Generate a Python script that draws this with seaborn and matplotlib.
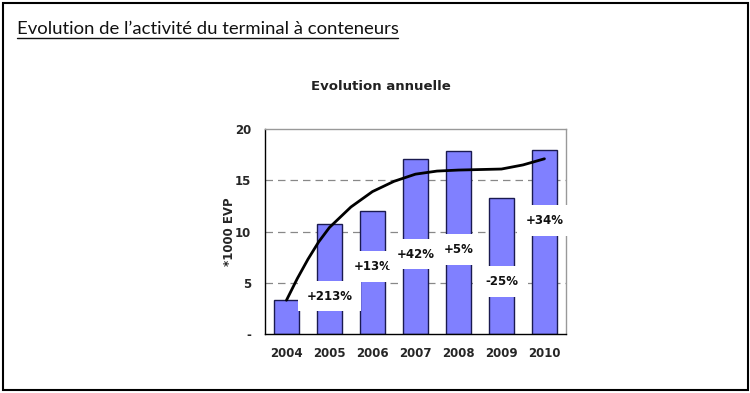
import numpy as np
import pandas as pd
import matplotlib
matplotlib.use("Agg")
import matplotlib.pyplot as plt
from matplotlib.lines import Line2D
from matplotlib.patches import Rectangle
import seaborn as sns

# ---- data ----
years = ["2004", "2005", "2006", "2007", "2008", "2009", "2010"]
volumes = [3.3, 10.7, 12.0, 17.1, 17.9, 13.3, 18.0]
growth_labels = ["", "+213%", "+13%", "+42%", "+5%", "-25%", "+34%"]
growth_label_y = [None, 3.7, 6.6, 7.8, 8.25, 5.1, 11.1]
trend_years = [2004, 2004.25, 2004.5, 2004.75, 2005, 2005.5, 2006, 2006.5,
               2007, 2007.5, 2008, 2008.5, 2009, 2009.5, 2010]
trend_values = [3.3, 5.4, 7.3, 9.0, 10.4, 12.4, 13.9, 14.9,
                15.6, 15.9, 16.0, 16.05, 16.1, 16.5, 17.1]
y_ticks = [0, 5, 10, 15, 20]
y_tick_labels = ["-", "5", "10", "15", "20"]

sns.set_style("white")
plt.rcParams["font.family"] = ["DejaVu Sans"]

fig = plt.figure(figsize=(7.5, 3.93), dpi=100)
ax = fig.add_axes([0.3533, 0.150, 0.4013, 0.5216])

df = pd.DataFrame({"year": years, "vol": volumes})
sns.barplot(data=df, x="year", y="vol", color="#8080FF", saturation=1,
            width=0.59, edgecolor="#1a1a50", linewidth=1.0, ax=ax, zorder=2)

trend_df = pd.DataFrame({"x": np.array(trend_years) - 2004, "y": trend_values})
sns.lineplot(data=trend_df, x="x", y="y", color="black", linewidth=2.0,
             ax=ax, zorder=4)

for i, (lab, ly) in enumerate(zip(growth_labels, growth_label_y)):
    if lab:
        ax.text(i, ly, lab, ha="center", va="center", fontsize=8.5,
                fontweight="bold", color="#111111", zorder=5,
                bbox=dict(boxstyle="square,pad=0.75", fc="white", ec="none"))

ax.set_xlim(-0.5, 6.5)
ax.set_ylim(0, 20)
ax.set_yticks(y_ticks)
ax.set_yticklabels(y_tick_labels, fontsize=8.5, fontweight="bold")
ax.set_xticks(range(len(years)))
ax.set_xticklabels(years, fontsize=8.5, fontweight="bold")
ax.set_xticks(np.arange(-0.5, 7.0, 1.0), minor=True)
ax.tick_params(axis="x", which="major", length=0, pad=9)
ax.tick_params(axis="x", which="minor", length=4, width=1, direction="out", color="black")
ax.tick_params(axis="y", which="major", length=4, width=1, direction="out", color="black", pad=6)
ax.set_xlabel("")
ax.set_ylabel("*1000 EVP", fontsize=8.5, fontweight="bold")
ax.yaxis.set_label_coords(-0.095, 0.5)

for yv in [5, 10, 15]:
    ax.axhline(yv, color="#888888", linestyle=(0, (6, 4)), linewidth=0.9, zorder=1)

for s in ["left", "bottom"]:
    ax.spines[s].set_color("black")
    ax.spines[s].set_linewidth(1.0)
for s in ["top", "right"]:
    ax.spines[s].set_visible(True)
    ax.spines[s].set_color("#999999")
    ax.spines[s].set_linewidth(1.0)

fig.text(381 / 750, 1 - 86 / 393, "Evolution annuelle", fontsize=9.5,
         fontweight="bold", ha="center", va="center", color="#222222")

# page title
fig.text(17 / 750, 1 - 28.5 / 393, "Evolution de l\u2019activit\u00e9 du terminal \u00e0 conteneurs",
         fontsize=13.3, family=["Lato", "DejaVu Sans"], ha="left", va="center", color="#111111")
fig.add_artist(Line2D([17 / 750, 398 / 750], [1 - 38 / 393, 1 - 38 / 393],
                      color="#111111", linewidth=1.0, transform=fig.transFigure))

# outer frame
fig.add_artist(Rectangle((3 / 750, 3 / 393), 745 / 750, 387 / 393, fill=False,
                         edgecolor="black", linewidth=1.5, transform=fig.transFigure))

fig.savefig("out.png", dpi=100)
